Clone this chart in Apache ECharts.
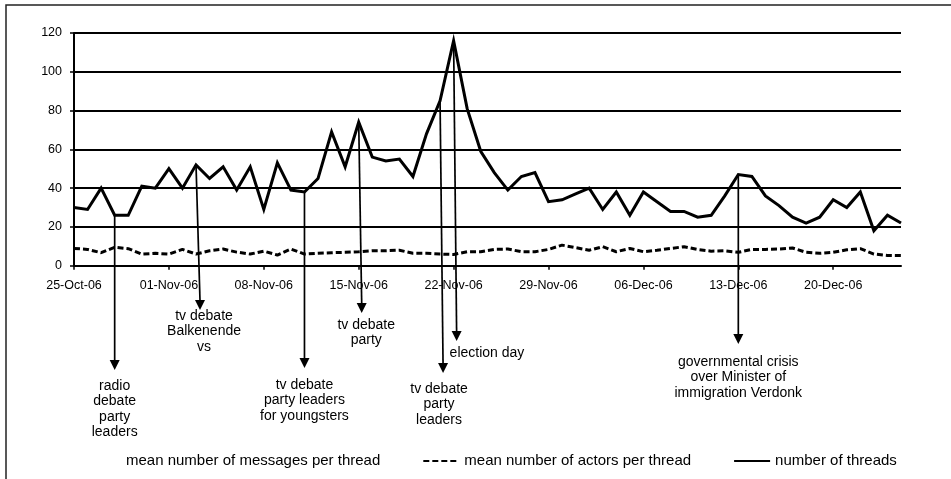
<!DOCTYPE html>
<html>
<head>
<meta charset="utf-8">
<script src="https://cdn.jsdelivr.net/npm/echarts@6/dist/echarts.min.js"></script>
<style>
  html, body { margin: 0; padding: 0; background: #fff; }
  #chart { width: 951px; height: 479px; }
</style>
</head>
<body>
<div id="chart"></div>
<script>
// one point per day, 25-Oct-06 .. 25-Dec-06
const startDate = Date.UTC(2006, 9, 25);
const dayCount = 62;
const monthNames = ['Jan', 'Feb', 'Mar', 'Apr', 'May', 'Jun', 'Jul', 'Aug', 'Sep', 'Oct', 'Nov', 'Dec'];
const days = [];
for (let i = 0; i < dayCount; i++) {
  const d = new Date(startDate + i * 86400000);
  const dd = String(d.getUTCDate()).padStart(2, '0');
  days.push(dd + '-' + monthNames[d.getUTCMonth()] + '-06');
}

const threads = [
  30, 29, 40, 26, 26, 41, 40, 50, 40, 52, 45, 51, 39, 51, 29, 53, 39, 38, 45, 69,
  51, 74, 56, 54, 55, 46, 68, 85, 116, 81, 59, 48, 39, 46, 48, 33, 34, 37, 40, 29,
  38, 26, 38, 33, 28, 28, 25, 26, 36, 47, 46, 36, 31, 25, 22, 25, 34, 30, 38, 18,
  26, 22
];
const actors = [
  8.9, 8.4, 6.7, 9.5, 8.8, 6.0, 6.4, 6.0, 8.4, 6.0, 7.7, 8.6, 7.0, 6.0, 7.5, 5.5, 8.6, 6.0, 6.4, 6.7,
  6.9, 7.2, 7.7, 7.7, 8.0, 6.4, 6.4, 6.0, 5.8, 7.2, 7.2, 8.4, 8.6, 7.2, 7.2, 8.4, 10.6, 9.3, 8.0, 9.8,
  7.2, 8.9, 7.2, 8.0, 8.9, 9.8, 8.4, 7.5, 7.7, 6.9, 8.4, 8.4, 8.6, 9.1, 6.9, 6.4, 6.9, 8.2, 8.8, 6.0,
  5.3, 5.2
];
// drawn invisibly in the original, only its legend entry shows
const messages = [];

const seriesNames = ['mean number of messages per thread', 'mean number of actors per thread', 'number of threads'];
const yTicks = [0, 20, 40, 60, 80, 100, 120];

const events = [
  { day: 3, text: 'radio\ndebate\nparty\nleaders' },
  { day: 9, text: 'tv debate\nBalkenende\nvs' },
  { day: 17, text: 'tv debate\nparty leaders\nfor youngsters' },
  { day: 21, text: 'tv debate\nparty' },
  { day: 27, text: 'tv debate\nparty\nleaders' },
  { day: 28, text: 'election day' },
  { day: 49, text: 'governmental crisis\nover Minister of\nimmigration Verdonk' }
];
// arrow tip y, tip x shift, text x shift, text top y, text align
const eventLayout = [
  [370, 0, 0, 378, 'center'],
  [310, 4, 4, 308, 'center'],
  [368, 0, 0, 377, 'center'],
  [313, 3, 4.5, 317, 'center'],
  [373, 3, -4, 381, 'center'],
  [341, 3, -7, 345.5, 'left'],
  [344, 0, 0, 354, 'center']
];

const FONT = '"Liberation Sans", Arial, sans-serif';

var chart = echarts.init(document.getElementById('chart'));
var option = {
  animation: false,
  backgroundColor: '#fff',
  textStyle: { fontFamily: FONT, color: '#000' },
  graphic: [{
    type: 'rect',
    z: -10,
    shape: { x: 6, y: 5, width: 1000, height: 1000 },
    style: { fill: 'none', stroke: '#222', lineWidth: 1.5 }
  }],
  grid: { left: 74, right: 50, top: 33, bottom: 213.3 },
  legend: {
    data: seriesNames,
    left: 79,
    top: 448.5,
    itemWidth: 36,
    itemHeight: 14,
    itemGap: 42,
    selectedMode: false,
    itemStyle: { opacity: 0 },
    textStyle: { fontFamily: FONT, fontSize: 15, color: '#000' }
  },
  xAxis: {
    type: 'category',
    data: days,
    boundaryGap: false,
    axisLine: { lineStyle: { color: '#000', width: 2 } },
    axisTick: {
      interval: function (i) { return i % 7 === 0; },
      length: 4,
      lineStyle: { color: '#000', width: 1.5 }
    },
    axisLabel: {
      interval: function (i) { return i % 7 === 0; },
      margin: 13,
      fontFamily: FONT,
      fontSize: 12.5,
      color: '#000'
    },
    splitLine: { show: false }
  },
  yAxis: {
    type: 'value',
    min: yTicks[0],
    max: yTicks[yTicks.length - 1],
    interval: yTicks[1] - yTicks[0],
    axisLine: { show: true, lineStyle: { color: '#000', width: 2 } },
    axisTick: { show: true, length: 4, lineStyle: { color: '#000', width: 1.5 } },
    axisLabel: { margin: 12, fontFamily: FONT, fontSize: 12.5, color: '#000' },
    splitLine: { lineStyle: { color: '#000', width: 2 } }
  },
  series: [
    {
      name: seriesNames[0],
      type: 'line',
      data: messages,
      symbol: 'none',
      itemStyle: { color: '#fff' },
      lineStyle: { color: '#fff', width: 3 }
    },
    {
      name: seriesNames[1],
      type: 'line',
      data: actors,
      symbol: 'none',
      itemStyle: { color: '#000' },
      lineStyle: { color: '#000', width: 3, type: [6, 3] },
      z: 3
    },
    {
      name: seriesNames[2],
      type: 'line',
      data: threads,
      symbol: 'none',
      itemStyle: { color: '#000' },
      lineStyle: { color: '#000', width: 3, join: 'miter' },
      z: 4
    },
    {
      name: 'events',
      type: 'custom',
      coordinateSystem: 'cartesian2d',
      clip: false,
      silent: true,
      z: 5,
      data: events.map(function (e) { return [e.day, threads[e.day]]; }),
      renderItem: function (params, api) {
        const i = params.dataIndex;
        const L = eventLayout[i];
        const p = api.coord([api.value(0), api.value(1)]);
        const tipX = p[0] + L[1];
        const tipY = L[0];
        const head = 10;
        return {
          type: 'group',
          children: [
            {
              type: 'line',
              shape: { x1: p[0], y1: p[1], x2: tipX, y2: tipY - head + 1 },
              style: { stroke: '#000', lineWidth: 1.7 }
            },
            {
              type: 'polygon',
              shape: { points: [[tipX - 5, tipY - head], [tipX + 5, tipY - head], [tipX, tipY]] },
              style: { fill: '#000' }
            },
            {
              type: 'text',
              style: {
                text: events[i].text,
                x: tipX + L[2],
                y: L[3],
                align: L[4],
                verticalAlign: 'top',
                fontFamily: FONT,
                fontSize: 14,
                lineHeight: 15.5,
                fill: '#000'
              }
            }
          ]
        };
      }
    }
  ]
};
option && chart.setOption(option);
</script>
</body>
</html>
